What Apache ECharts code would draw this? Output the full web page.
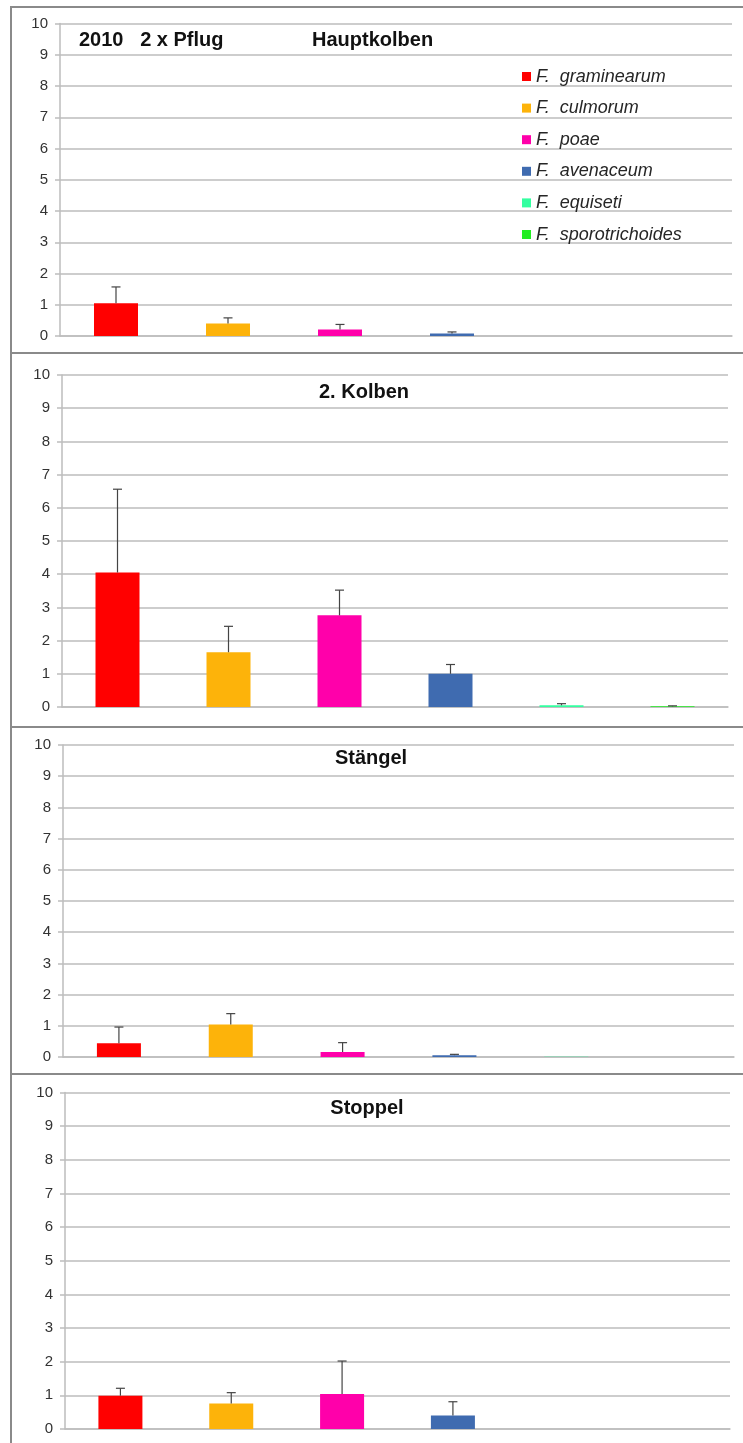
<!DOCTYPE html>
<html>
<head>
<meta charset="utf-8">
<script src="https://cdn.jsdelivr.net/npm/echarts@6/dist/echarts.min.js"></script>
<style>
html,body{margin:0;padding:0;background:#fff;}
#chart{width:743px;height:1443px;}
</style>
</head>
<body>
<div id="chart"></div>
<script>
// ---- data ----
const species = ['F.  graminearum', 'F.  culmorum', 'F.  poae', 'F.  avenaceum', 'F.  equiseti', 'F.  sporotrichoides'];
const panelTitles = ['Hauptkolben', '2. Kolben', 'Stängel', 'Stoppel'];
const headerText = '2010   2 x Pflug';
const yTicks = [0, 1, 2, 3, 4, 5, 6, 7, 8, 9, 10];
// means per panel (order of species)
const meansHauptkolben = [1.05, 0.40, 0.21, 0.08, 0, 0];
const meansKolben2     = [4.05, 1.65, 2.76, 1.00, 0.05, 0.02];
const meansStaengel    = [0.44, 1.04, 0.16, 0.06, 0.01, 0];
const meansStoppel     = [0.99, 0.76, 1.04, 0.40, 0, 0];
// error (upper) per panel
const errHauptkolben = [0.52, 0.18, 0.16, 0.05, 0, 0];
const errKolben2     = [2.51, 0.78, 0.76, 0.28, 0.05, 0.015];
const errStaengel    = [0.52, 0.35, 0.30, 0.025, 0, 0];
const errStoppel     = [0.22, 0.32, 0.98, 0.41, 0, 0];

const colors = ['#ff0000', '#fdb30a', '#ff00aa', '#3f6bb0', '#33ffa0', '#22ee22'];

const means = [meansHauptkolben, meansKolben2, meansStaengel, meansStoppel];
const errs = [errHauptkolben, errKolben2, errStaengel, errStoppel];

// ---- layout ----
const grids = [
  {left: 60, right: 11, top: 23.5, height: 312.5},
  {left: 62, right: 15, top: 375, height: 332},
  {left: 63, right: 9, top: 745, height: 312},
  {left: 65, right: 13, top: 1092.5, height: 336.5}
];
const titlePos = [
  {x: 312, y: 40.5, align: 'left'},
  {x: 364, y: 392.5, align: 'center'},
  {x: 371, y: 758.5, align: 'center'},
  {x: 367, y: 1108, align: 'center'}
];
const boxes = [
  {y: 7, h: 346}, {y: 353, h: 374}, {y: 727, h: 347}, {y: 1074, h: 420}
];

const gridColor = '#bdbdbd';
const labelFont = '"Liberation Sans", Arial, sans-serif';

const xAxes = [], yAxes = [], series = [];
grids.forEach((g, p) => {
  xAxes.push({
    type: 'category', gridIndex: p, data: species,
    axisLabel: {show: false}, axisTick: {show: false},
    axisLine: {show: true, lineStyle: {color: gridColor, width: 1.5}}
  });
  yAxes.push({
    type: 'value', gridIndex: p, min: 0, max: 10, interval: 1,
    axisLine: {show: true, lineStyle: {color: gridColor, width: 1.5}},
    axisTick: {show: true, length: 5, lineStyle: {color: gridColor, width: 1.5}},
    splitLine: {show: true, lineStyle: {color: gridColor, width: 1.5}},
    axisLabel: {
      margin: 12, fontSize: 15, color: '#333', fontFamily: labelFont,
      formatter: v => yTicks.indexOf(v) >= 0 ? String(v) : ''
    }
  });
  species.forEach((name, s) => {
    series.push({
      type: 'bar', name: name, xAxisIndex: p, yAxisIndex: p,
      stack: 'panel' + p, barWidth: 44,
      itemStyle: {color: colors[s]},
      data: species.map((_, i) => i === s ? means[p][s] : '-'),
      animation: false
    });
  });
  const errData = [];
  species.forEach((_, i) => { if (errs[p][i] > 0) errData.push([i, means[p][i], errs[p][i]]); });
  series.push({
    type: 'custom', xAxisIndex: p, yAxisIndex: p, z: 5, animation: false,
    data: errData,
    renderItem: function (params, api) {
      const i = api.value(0), m = api.value(1), e = api.value(2);
      const b = api.coord([i, m]);
      const t = api.coord([i, m + e]);
      const cap = 4.5;
      return {
        type: 'group',
        children: [
          {type: 'line', shape: {x1: b[0], y1: b[1], x2: t[0], y2: t[1]}, style: {stroke: '#444', lineWidth: 1.2}},
          {type: 'line', shape: {x1: t[0] - cap, y1: t[1], x2: t[0] + cap, y2: t[1]}, style: {stroke: '#444', lineWidth: 1.2}}
        ]
      };
    }
  });
});

const graphics = [];
boxes.forEach(b => {
  graphics.push({type: 'rect', shape: {x: 11, y: b.y, width: 800, height: b.h},
    style: {fill: null, stroke: '#8a8a8a', lineWidth: 2}, silent: true, z: 0});
});
panelTitles.forEach((t, p) => {
  graphics.push({type: 'text', x: titlePos[p].x, y: titlePos[p].y, z: 10,
    style: {text: t, textAlign: titlePos[p].align, textVerticalAlign: 'middle',
      font: 'bold 20px "Liberation Sans", Arial, sans-serif', fill: '#111'}});
});
graphics.push({type: 'text', x: 79, y: 40.5, z: 10,
  style: {text: headerText, textAlign: 'left', textVerticalAlign: 'middle',
    font: 'bold 20px "Liberation Sans", Arial, sans-serif', fill: '#111'}});

const chart = echarts.init(document.getElementById('chart'), null, {renderer: 'canvas'});
chart.setOption({
  backgroundColor: '#ffffff',
  animation: false,
  grid: grids,
  xAxis: xAxes,
  yAxis: yAxes,
  legend: {
    data: species, orient: 'vertical', left: 517, top: 61.5,
    itemWidth: 9, itemHeight: 9, itemGap: 11.6, icon: 'rect',
    selectedMode: false,
    textStyle: {fontSize: 18, fontStyle: 'italic', color: '#262626', lineHeight: 20, fontFamily: labelFont}
  },
  graphic: graphics,
  series: series
});
</script>
</body>
</html>
